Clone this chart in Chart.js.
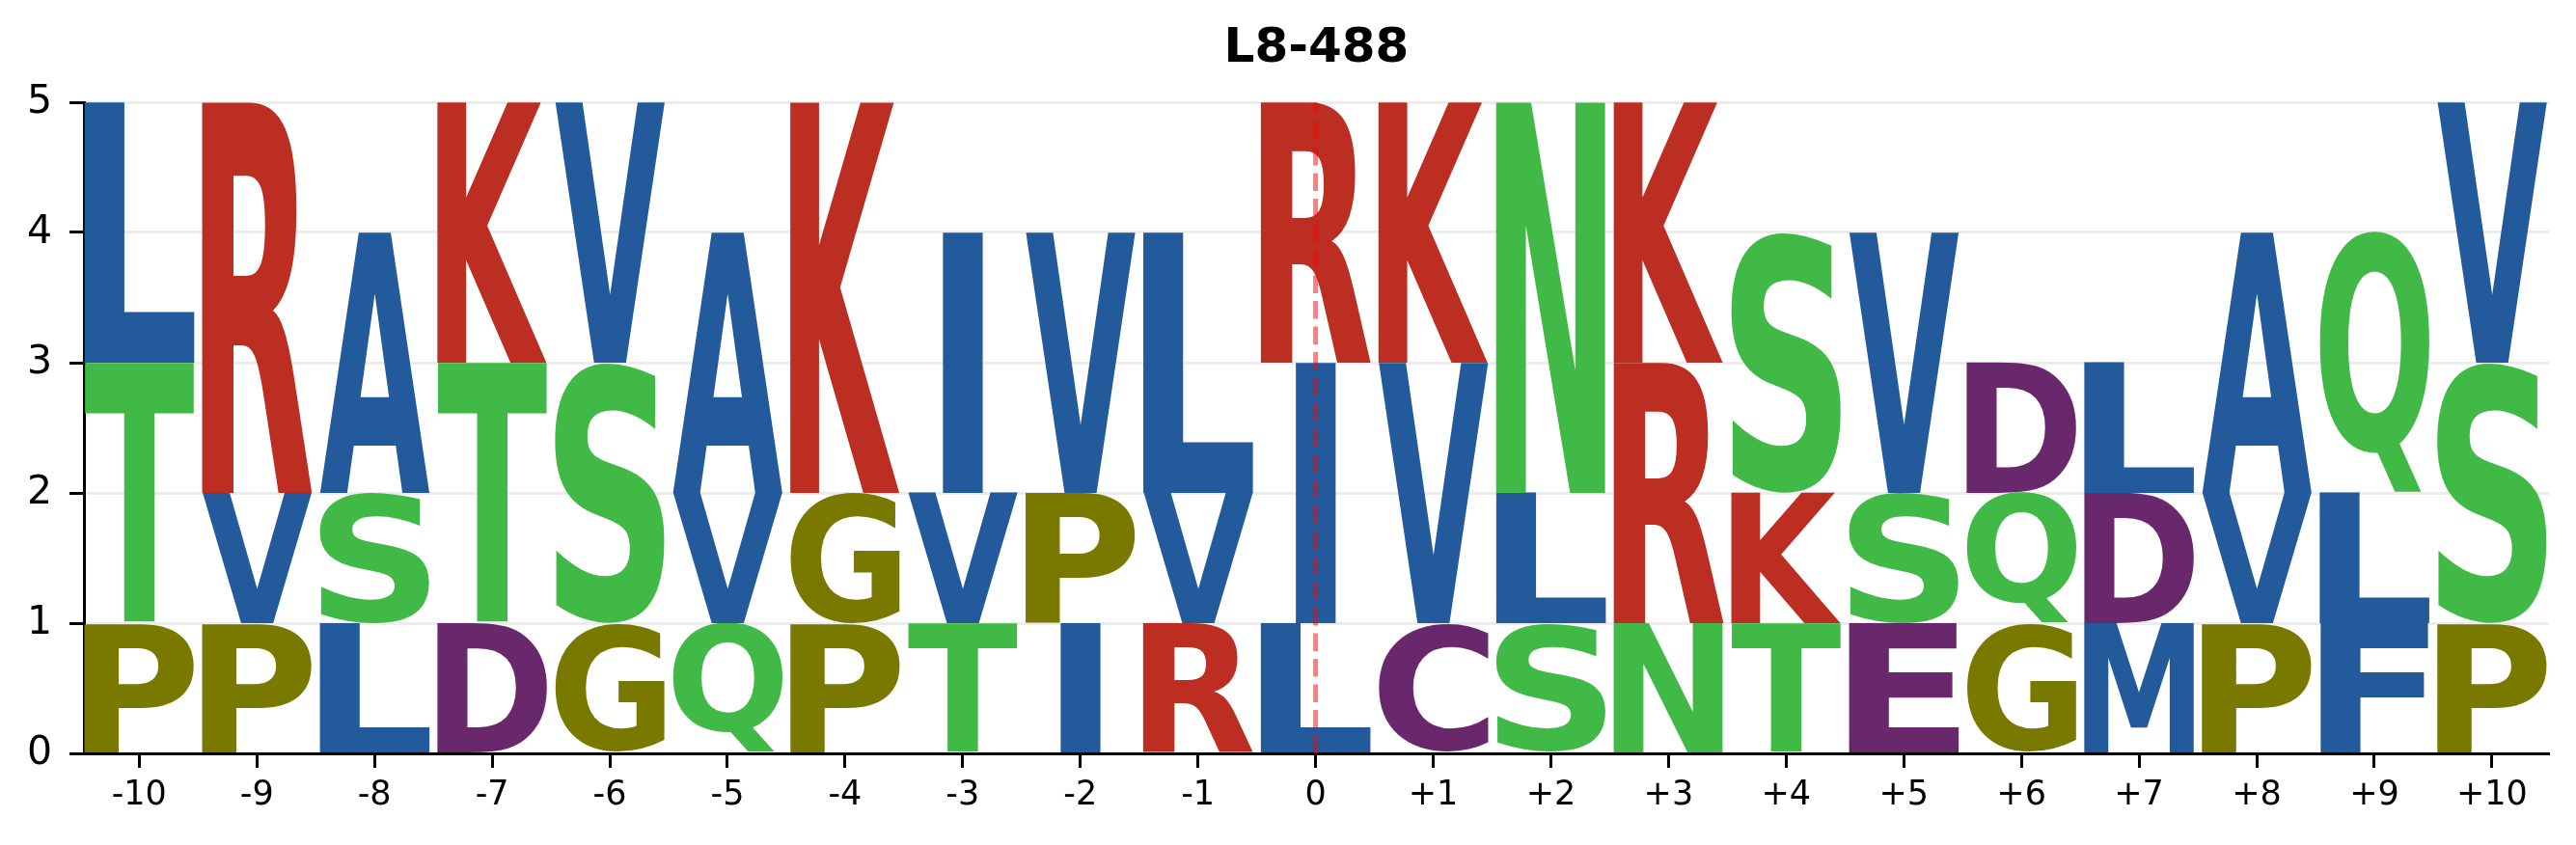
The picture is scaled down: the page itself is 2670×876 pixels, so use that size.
<!DOCTYPE html>
<html>
<head>
<meta charset="utf-8">
<script src="https://cdn.jsdelivr.net/npm/chart.js@4"></script>
<style>
  html, body { margin: 0; padding: 0; background: #fff; }
  #wrap { width: 2670px; height: 876px; }
</style>
</head>
<body>
<div id="wrap"><canvas id="logo"></canvas></div>
<script>
// positions along the peptide and their tick labels
const positions = [-10, -9, -8, -7, -6, -5, -4, -3, -2, -1, 0, 1, 2, 3, 4, 5, 6, 7, 8, 9, 10];
const positionLabels = ["-10", "-9", "-8", "-7", "-6", "-5", "-4", "-3", "-2", "-1", "0",
  "+1", "+2", "+3", "+4", "+5", "+6", "+7", "+8", "+9", "+10"];

// stacked letters, bottom to top
const bottomLetters = ["P", "P", "L", "D", "G", "Q", "P", "T", "I", "R", "L", "C", "S", "N", "T", "E", "G", "M", "P", "F", "P"];
const bottomHeights = [1, 1, 1, 1, 1, 1, 1, 1, 1, 1, 1, 1, 1, 1, 1, 1, 1, 1, 1, 1, 1];
const middleLetters = ["T", "V", "S", "T", "S", "V", "G", "V", "P", "V", "I", "V", "L", "R", "K", "S", "Q", "D", "V", "L", "S"];
const middleHeights = [2, 1, 1, 2, 2, 1, 1, 1, 1, 1, 2, 2, 1, 2, 1, 1, 1, 1, 1, 1, 2];
const topLetters = ["L", "R", "A", "K", "V", "A", "K", "I", "V", "L", "R", "K", "N", "K", "S", "V", "D", "L", "A", "Q", "V"];
const topHeights = [2, 3, 2, 2, 2, 2, 3, 2, 2, 2, 2, 2, 3, 2, 2, 2, 1, 1, 2, 2, 2];

const yTicks = [0, 1, 2, 3, 4, 5];
const titleText = "L8-488";

// colour per amino acid
const BLUE = "#235A9B", RED = "#BC2E22", GREEN = "#41B946", OLIVE = "#797900", PURPLE = "#6A286C";
const letterColors = {
  A: BLUE, I: BLUE, L: BLUE, M: BLUE, F: BLUE, V: BLUE, W: BLUE,
  R: RED, K: RED, H: RED,
  S: GREEN, T: GREEN, N: GREEN, Q: GREEN, Y: GREEN,
  D: PURPLE, E: PURPLE, C: PURPLE,
  P: OLIVE, G: OLIVE
};

function stackData(heights) {
  return positions.map((p, i) => ({ x: p, y: heights[i] }));
}

const LETTER_FONT = 'bold 200px "DejaVu Sans"';
const boxCache = {};
function inkBox(ctx, ch) {
  if (!boxCache[ch]) {
    ctx.save();
    ctx.font = LETTER_FONT;
    ctx.textAlign = "left";
    ctx.textBaseline = "alphabetic";
    const m = ctx.measureText(ch);
    ctx.restore();
    boxCache[ch] = {
      l: m.actualBoundingBoxLeft, r: m.actualBoundingBoxRight,
      a: m.actualBoundingBoxAscent, d: m.actualBoundingBoxDescent
    };
  }
  return boxCache[ch];
}

// draws each letter stretched into its bar rectangle
const letterPlugin = {
  id: "letters",
  afterDatasetsDraw(chart) {
    const ctx = chart.ctx;
    const e = inkBox(ctx, "E");
    const eW = e.l + e.r;
    chart.data.datasets.forEach((ds, di) => {
      const meta = chart.getDatasetMeta(di);
      meta.data.forEach((bar, i) => {
        const ch = ds.letters[i];
        const b = inkBox(ctx, ch);
        const w = b.l + b.r, h = b.a + b.d;
        const top = Math.min(bar.y, bar.base);
        const height = Math.abs(bar.base - bar.y);
        const sx = bar.width / Math.max(w, eW);
        const sy = height / h;
        ctx.save();
        ctx.translate(bar.x, top);
        ctx.scale(sx, sy);
        ctx.font = LETTER_FONT;
        ctx.textAlign = "left";
        ctx.textBaseline = "alphabetic";
        ctx.fillStyle = letterColors[ch];
        ctx.fillText(ch, -w / 2 + b.l, b.a);
        ctx.restore();
      });
    });
  }
};

// dashed marker at position 0
const zeroLinePlugin = {
  id: "zeroLine",
  afterDraw(chart) {
    const { ctx, chartArea, scales } = chart;
    const x = scales.x.getPixelForValue(0);
    ctx.save();
    ctx.strokeStyle = "rgba(255,0,0,0.5)";
    ctx.lineWidth = 5;
    ctx.setLineDash([18.5, 8]);
    ctx.beginPath();
    ctx.moveTo(x, chartArea.bottom);
    ctx.lineTo(x, chartArea.top);
    ctx.stroke();
    ctx.restore();
  }
};

Chart.defaults.color = "#000";
Chart.defaults.font.family = '"DejaVu Sans", sans-serif';

const transparent = "rgba(0,0,0,0)";
new Chart(document.getElementById("logo"), {
  type: "bar",
  data: {
    datasets: [
      { data: stackData(bottomHeights), letters: bottomLetters, backgroundColor: transparent },
      { data: stackData(middleHeights), letters: middleLetters, backgroundColor: transparent },
      { data: stackData(topHeights), letters: topLetters, backgroundColor: transparent }
    ]
  },
  options: {
    responsive: true,
    maintainAspectRatio: false,
    devicePixelRatio: 1,
    animation: false,
    categoryPercentage: 1,
    barPercentage: 0.935,
    layout: { padding: { left: 0, right: 28, top: 0, bottom: 0 } },
    scales: {
      x: {
        type: "linear",
        stacked: true,
        offset: false,
        min: -10.47,
        max: 10.485,
        z: 1,
        afterBuildTicks: (s) => { s.ticks = positions.map((v) => ({ value: v })); },
        afterFit: (s) => { s.height = 95; },
        ticks: {
          autoSkip: false,
          maxRotation: 0,
          padding: 8,
          font: { size: 35 },
          callback: (v) => positionLabels[positions.indexOf(v)]
        },
        grid: { offset: false, drawOnChartArea: false, drawTicks: true, tickLength: 15, tickColor: "#000", tickWidth: 3 },
        border: { display: true, color: "#000", width: 3 }
      },
      y: {
        stacked: true,
        min: 0,
        max: 5,
        z: 1,
        afterBuildTicks: (s) => { s.ticks = yTicks.map((v) => ({ value: v })); },
        afterFit: (s) => { s.width = 87; },
        ticks: { padding: 18, font: { size: 41 } },
        grid: { color: "rgba(170,170,170,0.22)", lineWidth: 3, tickLength: 15, tickColor: "#000", tickWidth: 3 },
        border: { display: true, color: "#000", width: 3 }
      }
    },
    plugins: {
      legend: { display: false },
      tooltip: { enabled: false },
      title: {
        display: true,
        text: titleText,
        fullSize: false,
        color: "#000",
        font: { size: 50, weight: "bold", lineHeight: 1.2 },
        padding: { top: 21, bottom: 25 }
      }
    }
  },
  plugins: [letterPlugin, zeroLinePlugin]
});
</script>
</body>
</html>
